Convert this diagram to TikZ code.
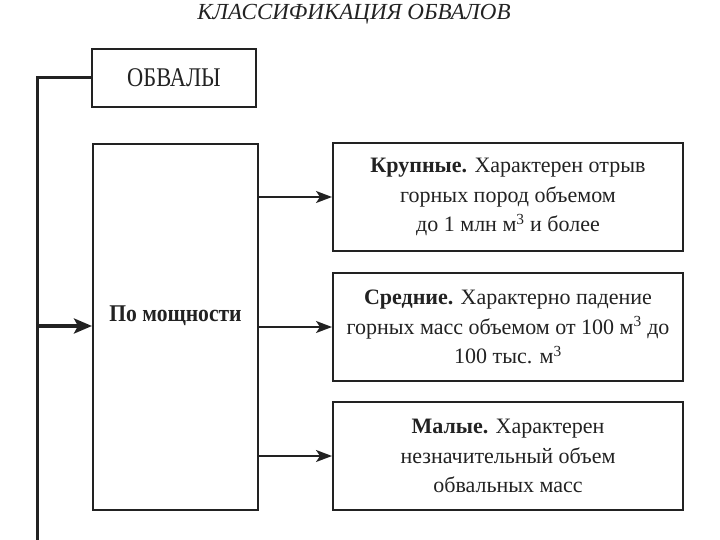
\documentclass[tikz,border=0pt]{standalone}
\usepackage{fontspec}
\setmainfont{Liberation Serif}
\newfontfamily\condfont[FakeStretch=0.83]{Liberation Serif}
\newfontfamily\semifont[FakeStretch=0.9]{Liberation Serif}
\usetikzlibrary{arrows.meta}
\definecolor{ink}{HTML}{222222}
\tikzset{
  box/.style={draw=ink, line width=2pt, fill=white, align=center, text=ink, inner sep=0pt,
    font=\fontsize{22}{29.5}\selectfont},
  arr/.style={draw=ink, line width=2pt, -{Stealth[length=16pt,width=12pt,inset=4pt]}},
}
\begin{document}
\begin{tikzpicture}[x=1pt,y=-1pt]
\useasboundingbox (0,0) rectangle (720,540);
\node[text=ink, font=\fontsize{23}{26}\selectfont\itshape] (title) at (354,14) {КЛАССИФИКАЦИЯ ОБВАЛОВ};
\node[box, minimum width=164pt, minimum height=58pt, font=\fontsize{27}{30}\condfont] (obv) at (174,78) {ОБВАЛЫ};
\node[box, minimum width=165pt, minimum height=366pt,
  label={[text=ink, font=\fontsize{24}{28}\semifont\bfseries, yshift=11pt]center:По мощности}] (pm) at (175.5,327) {};
\node[box, minimum width=350pt, minimum height=108pt] (k1) at (508,197) {\textbf{Крупные.} Характерен отрыв\\горных пород объемом\\до 1 млн м\textsuperscript{3} и более};
\node[box, minimum width=350pt, minimum height=108pt] (k2) at (508,327) {\textbf{Средние.} Характерно падение\\горных масс объемом от 100 м\textsuperscript{3} до\\100 тыс. м\textsuperscript{3}};
\node[box, minimum width=350pt, minimum height=108pt] (k3) at (508,456) {\textbf{Малые.} Характерен\\незначительный объем\\обвальных масс};
\coordinate (c1) at (37,78);
\coordinate (c2) at (37,540);
\coordinate (c3) at (37,326);
\draw[ink, line width=3pt] (obv.west) -- (c1) -- (c2);
\draw[arr, line width=4pt, -{Stealth[length=18pt,width=15pt,inset=4pt]}] (c3) -- (c3 -| pm.west);
\draw[arr] (pm.east |- k1.west) -- (k1.west);
\draw[arr] (pm.east |- k2.west) -- (k2.west);
\draw[arr] (pm.east |- k3.west) -- (k3.west);
\end{tikzpicture}
\end{document}
